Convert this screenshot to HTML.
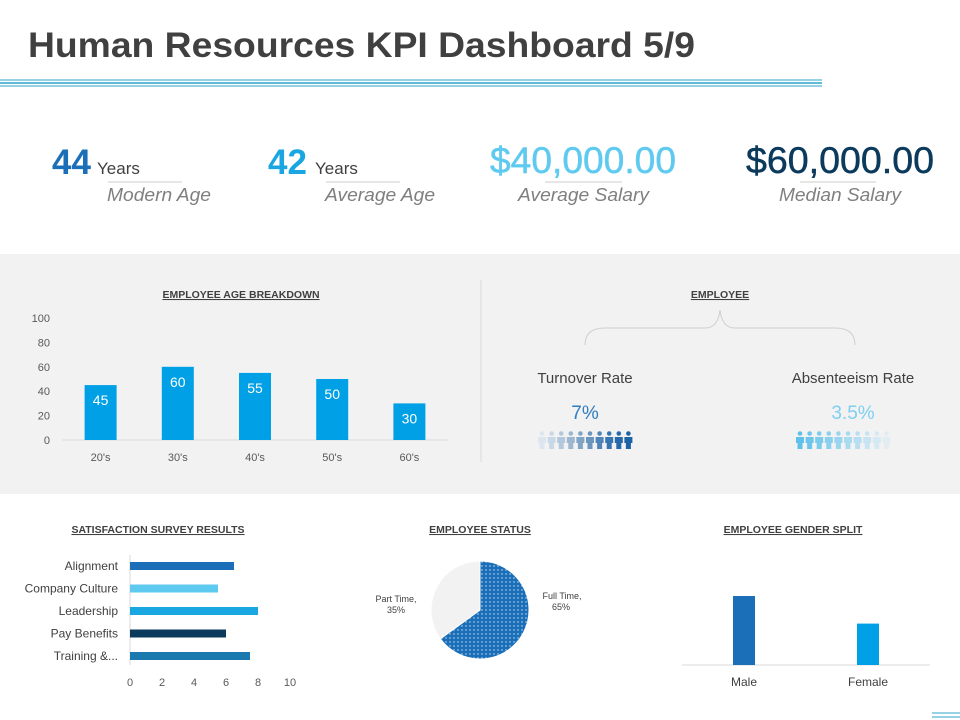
<!DOCTYPE html>
<html><head><meta charset="utf-8"><style>
body{margin:0;background:#fff;font-family:"Liberation Sans",sans-serif;}
svg{display:block}
</style></head><body>
<svg width="960" height="720" viewBox="0 0 960 720" xmlns="http://www.w3.org/2000/svg" font-family="Liberation Sans, sans-serif">
<defs>
<pattern id="dots" width="4" height="4" patternUnits="userSpaceOnUse"><rect width="4" height="4" fill="#1a6fb8"/><circle cx="2" cy="2" r="0.7" fill="#cfe3f5"/></pattern>
</defs>
<text x="28" y="57" font-size="35" font-weight="bold" fill="#404040" textLength="667" lengthAdjust="spacingAndGlyphs">Human Resources KPI Dashboard 5/9</text>
<g>
<line x1="0" y1="80" x2="822" y2="80" stroke="#2aa6c8" stroke-width="1"/>
<line x1="0" y1="83" x2="822" y2="83" stroke="#2aa6c8" stroke-width="1.5"/>
<line x1="0" y1="86" x2="822" y2="86" stroke="#2aa6c8" stroke-width="1"/>
</g>
<g>
<text x="52" y="174" font-size="35" font-weight="bold" fill="#1a6fb8">44</text>
<text x="97" y="174" font-size="17" fill="#404040">Years</text>
<line x1="108" y1="182" x2="182" y2="182" stroke="#ccc"/>
<text x="107" y="201" font-size="18" font-style="italic" fill="#7f7f7f" textLength="104" lengthAdjust="spacingAndGlyphs">Modern Age</text>
</g>
<g>
<text x="268" y="174" font-size="35" font-weight="bold" fill="#1aa6e0">42</text>
<text x="315" y="174" font-size="17" fill="#404040">Years</text>
<line x1="326" y1="182" x2="400" y2="182" stroke="#ccc"/>
<text x="325" y="201" font-size="18" font-style="italic" fill="#7f7f7f" textLength="110" lengthAdjust="spacingAndGlyphs">Average Age</text>
</g>
<g>
<text x="490" y="173" font-size="37" fill="#5fcaf0" stroke="#5fcaf0" stroke-width="0.5" textLength="186" lengthAdjust="spacingAndGlyphs">$40,000.00</text>
<line x1="545" y1="182" x2="622" y2="182" stroke="#ccc"/>
<text x="518" y="201" font-size="18" font-style="italic" fill="#7f7f7f" textLength="131" lengthAdjust="spacingAndGlyphs">Average Salary</text>
</g>
<g>
<text x="746" y="173" font-size="37" fill="#0b3a5c" stroke="#0b3a5c" stroke-width="0.5" textLength="188" lengthAdjust="spacingAndGlyphs">$60,000.00</text>
<line x1="800" y1="182" x2="876" y2="182" stroke="#ccc"/>
<text x="779" y="201" font-size="18" font-style="italic" fill="#7f7f7f" textLength="122" lengthAdjust="spacingAndGlyphs">Median Salary</text>
</g>
<rect x="0" y="254" width="960" height="240" fill="#f2f2f2"/>
<line x1="481" y1="280" x2="481" y2="462" stroke="#d9d9d9"/>
<text x="241" y="298" font-size="10.5" font-weight="bold" fill="#404040" text-anchor="middle" text-decoration="underline">EMPLOYEE AGE BREAKDOWN</text>
<g id="ageChart"></g>
<text x="720" y="298" font-size="10.5" font-weight="bold" fill="#404040" text-anchor="middle" text-decoration="underline">EMPLOYEE</text>
<path d="M585 345 Q585 328 605 328 L705 328 Q718 328 720 310 Q722 328 735 328 L835 328 Q855 328 855 345" fill="none" stroke="#cfcfcf"/>
<text x="585" y="383" font-size="15" fill="#404040" text-anchor="middle">Turnover  Rate</text>
<text x="853" y="383" font-size="15" fill="#404040" text-anchor="middle">Absenteeism Rate</text>
<text x="585" y="419" font-size="19" fill="#2e7dc0" text-anchor="middle">7%</text>
<text x="853" y="419" font-size="19" fill="#7fcff0" text-anchor="middle">3.5%</text>
<g id="people"></g>
<text x="158" y="533" font-size="10.5" font-weight="bold" fill="#404040" text-anchor="middle" text-decoration="underline">SATISFACTION SURVEY RESULTS</text>
<g id="survey"></g>
<text x="480" y="533" font-size="10.5" font-weight="bold" fill="#404040" text-anchor="middle" text-decoration="underline">EMPLOYEE STATUS</text>
<g id="pie"></g>
<text x="793" y="533" font-size="10.5" font-weight="bold" fill="#404040" text-anchor="middle" text-decoration="underline">EMPLOYEE GENDER SPLIT</text>
<g id="gender"></g>
<g>
<line x1="932" y1="713" x2="960" y2="713" stroke="#2aa6c8"/>
<line x1="932" y1="717" x2="960" y2="717" stroke="#2aa6c8"/>
</g>
</svg>
<script>
const NS="http://www.w3.org/2000/svg";
const ageCats=["20's","30's","40's","50's","60's"];
const ageVals=[45,60,55,50,30];
const ageTicks=[0,20,40,60,80,100];
const surveyCats=["Alignment","Company Culture","Leadership","Pay Benefits","Training &..."];
const surveyVals=[6.5,5.5,8,6,7.5];
const surveyColors=["#1a6fb8","#5fcaf0","#1aa6e0","#0b3a5c","#1a7ab0"];
const surveyTicks=[0,2,4,6,8,10];
const statusCats=["Full Time","Part Time"];
const statusVals=[65,35];
const genderCats=["Male","Female"];
const genderVals=[60,36];
const turnoverShades=["#dde6ef","#c9d8e6","#b3c8dc","#9ab6d0","#80a4c6","#6a95bf","#4f84b8","#3775b2","#2569aa","#1b62a6"];
const absentShades=["#5ec1ea","#6cc6ec","#7bcbed","#8ad0ee","#99d5ef","#a8daf0","#b7dff1","#c6e4f2","#d5e9f2","#e2edf2"];

function el(tag,attrs,parent,txt){const e=document.createElementNS(NS,tag);for(const k in attrs)e.setAttribute(k,attrs[k]);if(txt!==undefined)e.textContent=txt;parent.appendChild(e);return e;}

(function(){
 const g=document.getElementById('ageChart');
 const x0=62,x1=448,y0=440,y1=318;
 const y=v=>y0-(v/100)*(y0-y1);
 const bw=(x1-x0)/ageCats.length;
 ageTicks.forEach(t=>{const e=el('text',{x:50,y:y(t)+4,'font-size':11,fill:'#595959','text-anchor':'end'},g,t);
 
 });
 el('line',{x1:x0,y1:y0,x2:x1,y2:y0,stroke:'#d9d9d9'},g);
 ageCats.forEach((c,i)=>{
  const cx=x0+bw*(i+0.5);
  const r=el('rect',{x:cx-16,y:y(ageVals[i]),width:32,height:y0-y(ageVals[i]),fill:'#00a0e6'},g);
  
  
  const t=el('text',{x:cx,y:y(ageVals[i])+20,'font-size':14,fill:'#fff','text-anchor':'middle'},g,ageVals[i]);
  
  
  const l=el('text',{x:cx,y:461,'font-size':11,fill:'#595959','text-anchor':'middle'},g,c);
  
  
 });
})();

(function(){
 const g=document.getElementById('people');
 function person(x,color){
  el('circle',{cx:x+4,cy:433.5,r:2.3,fill:color},g);
  el('path',{d:`M${x} 437 h8 v6 h-1.5 v6 h-5 v-6 h-1.5z`,fill:color},g);
 }
 turnoverShades.forEach((c,i)=>person(538+i*9.6,c));
 absentShades.forEach((c,i)=>person(796+i*9.6,c));
})();

(function(){
 const g=document.getElementById('survey');
 const x0=130,x1=290,yTop=566,step=22.5;
 const x=v=>x0+(v/10)*(x1-x0);
 el('line',{x1:x0,y1:555,x2:x0,y2:665,stroke:'#d9d9d9'},g);
 surveyCats.forEach((c,i)=>{
  const cy=yTop+i*step;
  const r=el('rect',{x:x0,y:cy-4,width:x(surveyVals[i])-x0,height:8,fill:surveyColors[i]},g);
  
  
  const t=el('text',{x:118,y:cy+4,'font-size':12,fill:'#404040','text-anchor':'end'},g,c);
  
  
 });
 surveyTicks.forEach(tk=>{const t=el('text',{x:x(tk),y:686,'font-size':11,fill:'#595959','text-anchor':'middle'},g,tk);
 
 });
})();

(function(){
 const g=document.getElementById('pie');
 const cx=480,cy=610,r=49;
 const total=statusVals.reduce((a,b)=>a+b,0);
 let a=-Math.PI/2;
 const fills=['url(#dots)','#f2f2f2'];
 statusVals.forEach((v,i)=>{
  const a2=a+v/total*2*Math.PI;
  const large=(a2-a)>Math.PI?1:0;
  const p=el('path',{d:`M${cx} ${cy} L${cx+r*Math.cos(a)} ${cy+r*Math.sin(a)} A${r} ${r} 0 ${large} 1 ${cx+r*Math.cos(a2)} ${cy+r*Math.sin(a2)} Z`,fill:fills[i],stroke:'#fff','stroke-width':1},g);
  
  
  a=a2;
 });
 const l1=el('text',{x:562,y:599,'font-size':9,fill:'#404040','text-anchor':'middle'},g,statusCats[0]+',');
 
 
 el('text',{x:561,y:610,'font-size':9,fill:'#404040','text-anchor':'middle'},g,statusVals[0]+'%');
 const l2=el('text',{x:396,y:602,'font-size':9,fill:'#404040','text-anchor':'middle'},g,statusCats[1]+',');
 
 
 el('text',{x:396,y:613,'font-size':9,fill:'#404040','text-anchor':'middle'},g,statusVals[1]+'%');
})();

(function(){
 const g=document.getElementById('gender');
 const x0=682,x1=930,y0=665,ymax=100,h=115;
 const y=v=>y0-v/ymax*h;
 const colors=['#1a6fb8','#00a0e6'];
 const bw=(x1-x0)/genderCats.length;
 el('line',{x1:x0,y1:y0,x2:x1,y2:y0,stroke:'#d9d9d9'},g);
 genderCats.forEach((c,i)=>{
  const cx=x0+bw*(i+0.5);
  const r=el('rect',{x:cx-11,y:y(genderVals[i]),width:22,height:y0-y(genderVals[i]),fill:colors[i]},g);
  
  
  const t=el('text',{x:cx,y:686,'font-size':12,fill:'#404040','text-anchor':'middle'},g,c);
  
  
 });
})();
</script>
</body></html>
